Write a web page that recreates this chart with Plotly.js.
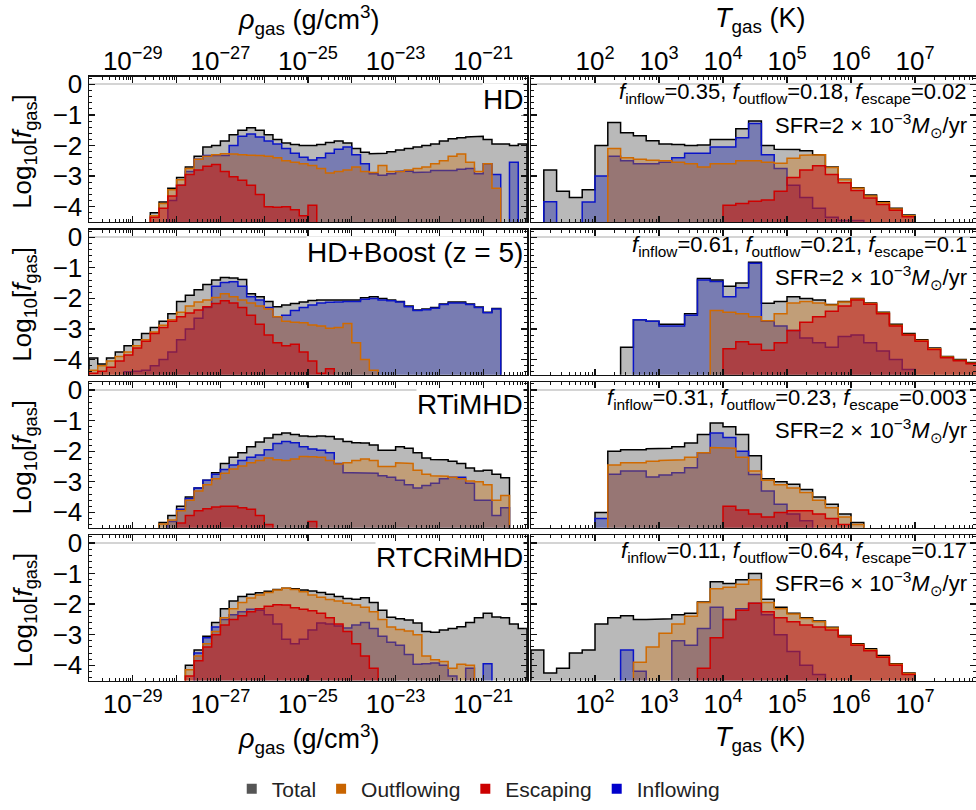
<!DOCTYPE html>
<html>
<head>
<meta charset="utf-8">
<script src="https://cdn.plot.ly/plotly-3.0.1.min.js"></script>
<style>html,body{margin:0;padding:0;background:#fff;}#chart{width:976px;height:810px;}</style>
</head>
<body>
<div id="chart"></div>
<script>
const _ = null;

// ---------- Density histograms: log10 f_gas per 0.2-dex bin of log10 rho, first bin edge -30 ----------
const rhoBinStart = -30, rhoBinWidth = 0.2;
const hdRhoTotal = [_,_,_,_,_,_,_,-4.2,-3.85,-3.4,-3.05,-2.7,-2.35,-2.05,-2.0,-1.85,-1.65,-1.5,-1.42,-1.5,-1.65,-1.8,-1.92,-1.97,-2.0,-2.0,-1.97,-1.9,-1.85,-1.92,-2.1,-2.22,-2.27,-2.25,-2.2,-2.15,-2.1,-2.05,-2.0,-1.95,-1.85,-1.78,-1.75,-1.72,-1.7,-1.8,-1.95,-1.95,-2.0,-1.95];
const hdRhoIn    = [_,_,_,_,_,_,_,_,_,-3.8,-3.3,-2.85,-2.45,-2.33,-2.33,-2.33,-2.0,-1.7,-1.62,-1.72,-1.85,-1.95,-2.1,-2.25,-2.38,-2.47,-2.4,-2.25,-2.12,-2.05,-2.3,-2.6,-2.92,-2.97,-2.92,-2.85,-2.83,-2.88,-2.87,-2.82,-2.8,-2.82,-2.78,-2.75,-2.92,-2.6,-2.95,_,-2.55];
const hdRhoOut   = [_,_,_,_,_,_,_,-4.3,-3.9,-3.45,-3.12,-2.75,-2.45,-2.35,-2.3,-2.27,-2.28,-2.3,-2.32,-2.33,-2.35,-2.4,-2.5,-2.55,-2.6,-2.65,-2.75,-2.9,-2.85,-2.8,-2.7,-2.85,-2.88,-2.65,-2.85,-2.85,-2.8,-2.75,-2.7,-2.6,-2.5,-2.35,-2.28,-2.55,-2.85,-2.6,-3.4];
const hdRhoEsc   = [_,_,_,_,_,_,_,-4.35,-4.05,-3.65,-3.3,-2.95,-2.8,-2.68,-2.62,-2.85,-3.02,-3.14,-3.3,-3.6,-4.0,-4.02,-4.0,-4.1,-4.3,-3.95];

const boostRhoTotal = [-3.95,-4.15,-3.95,-3.75,-3.55,-3.35,-3.15,-2.95,-2.75,-2.5,-2.1,-1.9,-1.72,-1.55,-1.4,-1.32,-1.33,-1.38,-1.85,-1.95,-2.1,-2.27,-2.22,-2.17,-2.12,-2.07,-2.05,-2.05,-2.03,-2.03,-2.05,-1.98,-1.95,-2.0,-2.05,-2.1,-2.25,-2.38,-2.35,-2.3,-2.18,-2.12,-2.12,-2.18,-2.28,-2.45,-2.33];
const boostRhoIn    = [_,_,_,_,-4.4,-4.38,-4.35,-4.2,-4.0,-3.75,-3.35,-3.0,-2.65,-2.3,-1.6,-1.48,-1.46,-1.6,-1.95,-2.05,-2.3,-2.6,-2.55,-2.4,-2.3,-2.22,-2.15,-2.13,-2.12,-2.1,-2.1,-2.03,-2.0,-2.05,-2.08,-2.12,-2.27,-2.4,-2.37,-2.32,-2.2,-2.15,-2.15,-2.2,-2.3,-2.47,-2.35];
const boostRhoOut   = [-4.35,-4.2,-4.05,-3.9,-3.75,-3.55,-3.35,-3.1,-2.88,-2.7,-2.45,-2.25,-2.12,-2.05,-1.97,-1.85,-1.95,-2.05,-2.15,-2.25,-2.35,-2.6,-2.75,-2.78,-2.8,-2.87,-2.9,-2.98,-2.95,-2.82,-3.45,-4.0,-4.35];
const boostRhoEsc   = [-4.45,-4.38,-4.25,-4.05,-3.85,-3.62,-3.4,-3.15,-2.95,-2.75,-2.6,-2.48,-2.38,-2.27,-2.17,-2.08,-2.15,-2.3,-2.55,-2.85,-3.2,-3.45,-3.55,-3.5,-3.75,-4.05,-4.45,-4.3];

const rtRhoTotal = [_,_,_,_,_,_,_,_,-4.33,-4.1,-3.8,-3.5,-3.2,-2.95,-2.7,-2.4,-2.2,-2.05,-1.85,-1.7,-1.57,-1.45,-1.4,-1.45,-1.5,-1.52,-1.5,-1.52,-1.6,-1.68,-1.72,-1.73,-1.8,-1.97,-1.97,-1.85,-1.9,-2.05,-2.22,-2.27,-2.28,-2.33,-2.4,-2.55,-2.65,-2.62,-2.75,-2.87];
const rtRhoIn    = [_,_,_,_,_,_,_,_,_,-4.3,-3.9,-3.55,-3.2,-2.95,-2.75,-2.6,-2.45,-2.3,-2.2,-2.12,-1.95,-1.75,-1.68,-1.72,-1.85,-1.93,-1.97,-2.05,-2.4,-2.7,-2.7,-2.7,-2.72,-2.8,-2.85,-2.95,-3.1,-3.2,-3.12,-3.05,-2.9,-2.85,-2.85,-3.05,-3.6,-3.6,-4.1,-3.85];
const rtRhoOut   = [_,_,_,_,_,_,_,_,-4.38,-4.25,-3.95,-3.6,-3.3,-3.1,-2.9,-2.72,-2.58,-2.48,-2.38,-2.3,-2.22,-2.28,-2.3,-2.25,-2.17,-2.18,-2.2,-2.3,-2.42,-2.38,-2.3,-2.25,-2.3,-2.5,-2.5,-2.38,-2.4,-2.62,-2.75,-2.8,-2.82,-2.85,-2.9,-2.97,-3.0,-3.1,-3.6,-3.45];
const rtRhoEsc   = [_,_,_,_,_,_,_,_,_,_,-4.35,-4.1,-3.95,-3.88,-3.82,-3.8,-3.8,-3.85,-3.9,-4.1,-4.4,_,_,_,_,-4.3];

const crRhoTotal = [_,_,_,_,_,_,_,_,_,_,_,-4.0,-3.5,-3.05,-2.6,-2.15,-1.9,-1.75,-1.68,-1.63,-1.58,-1.52,-1.48,-1.5,-1.54,-1.57,-1.62,-1.68,-1.75,-1.82,-1.84,-1.79,-1.95,-2.2,-2.43,-2.48,-2.52,-2.62,-2.9,-2.92,-2.85,-2.8,-2.74,-2.6,-2.45,-2.3,-2.42,-2.45,-2.65,-2.8];
const crRhoIn    = [_,_,_,_,_,_,_,_,_,_,_,_,-3.6,-3.1,-2.75,-2.5,-2.35,-2.25,-2.17,-2.2,-2.35,-2.65,-3.15,-3.3,-3.15,-2.85,-2.62,-2.65,-2.72,-2.78,-2.68,-2.6,-2.8,-3.05,-3.25,-3.35,-3.65,-3.97,-3.95,-3.93,-4.0,-4.35,_,-4.1,_,-3.95];
const crRhoOut   = [_,_,_,_,_,_,_,_,_,_,_,-4.15,-3.7,-3.3,-2.9,-2.45,-2.15,-1.95,-1.8,-1.7,-1.62,-1.54,-1.48,-1.52,-1.6,-1.7,-1.78,-1.85,-1.9,-1.97,-2.03,-2.1,-2.25,-2.5,-2.75,-2.83,-2.88,-3.0,-3.7,-3.82,-3.88,-4.1,-3.97,-4.0];
const crRhoEsc   = [_,_,_,_,_,_,_,_,_,_,_,-4.35,-3.85,-3.4,-3.0,-2.68,-2.5,-2.38,-2.25,-2.15,-2.07,-2.02,-2.03,-2.12,-2.17,-2.22,-2.3,-2.45,-2.65,-2.9,-3.3,-3.7,-4.1];

// ---------- Temperature histograms: log10 f_gas per 0.2-dex bin of log10 T, first bin edge 1 ----------
const tBinStart = 1, tBinWidth = 0.2;
const hdTTotal = [_,-2.8,-3.5,-3.7,-3.45,-2.0,-1.25,-1.58,-1.68,-1.84,-1.95,-1.97,-2.0,-1.98,-1.8,-1.8,-1.45,-1.2,-2.0,-2.12,-2.13,-2.17,-2.3,-2.7,-3.1,-3.38,-3.62,-3.84,-4.05,-4.27];
const hdTIn    = [_,-3.84,_,_,-3.85,-3.0,-2.35,-2.5,-2.6,-2.6,-2.55,-2.4,-2.25,-2.25,-2.05,-2.05,-1.75,-1.28,-2.3,-2.75,-3.3,-3.7,-4.05,-4.35,-4.45,-4.45];
const hdTOut   = [_,_,_,_,_,_,-2.1,-2.4,-2.45,-2.48,-2.5,-2.55,-2.6,-2.7,-2.6,-2.6,-2.5,-2.5,-2.55,-2.58,-2.42,-2.32,-2.3,-2.72,-3.12,-3.4,-3.65,-3.87,-4.08,-4.3];
const hdTEsc   = [_,_,_,_,_,_,_,_,_,_,_,_,_,_,_,-3.95,-3.9,-3.82,-3.78,-3.5,-3.05,-2.8,-2.66,-2.95,-3.22,-3.47,-3.72,-3.93,-4.12,-4.33];

const boostTTotal = [_,_,_,_,_,_,_,-3.6,-2.7,-2.75,-2.85,-2.85,-2.5,-1.35,-1.4,-1.6,-1.5,-0.82,-2.16,-2.1,-1.95,-2.0,-2.05,-2.2,-2.1,-2.0,-2.15,-2.45,-2.85,-3.15,-3.35,-3.62,-3.9,-4.0,-4.1];
const boostTIn    = [_,_,_,_,_,_,_,_,-2.7,-2.75,-2.9,-2.9,-2.55,-1.4,-1.45,-1.95,-1.65,-0.85,-2.75,-2.9,-3.05,-3.3,-3.45,-3.6,-3.25,-3.2,-3.45,-3.72,-4.0,-4.33];
const boostTOut   = [_,_,_,_,_,_,_,_,_,_,_,_,_,_,-2.4,-2.45,-2.5,-2.6,-2.73,-2.5,-2.15,-2.1,-2.15,-2.22,-2.12,-2.02,-2.17,-2.48,-2.88,-3.18,-3.38,-3.65,-3.92,-4.02,-4.12];
const boostTEsc   = [_,_,_,_,_,_,_,_,_,_,_,_,_,_,_,-3.65,-3.42,-3.5,-3.7,-3.45,-3.05,-2.78,-2.6,-2.42,-2.25,-2.05,-2.19,-2.5,-2.9,-3.2,-3.4,-3.67,-3.94,-4.04,-4.14];

const rtTTotal = [_,_,_,_,_,-4.0,-2.0,-1.95,-1.95,-1.92,-1.9,-1.85,-1.73,-1.45,-1.08,-1.2,-1.45,-2.15,-2.9,-3.0,-3.08,-3.25,-3.5,-3.73,-4.05,-4.33];
const rtTIn    = [_,_,_,_,_,-4.2,-2.75,-2.65,-2.65,-2.84,-2.78,-2.7,-2.54,-2.05,-1.4,-1.55,-2.0,-2.76,-3.3,-3.73,-4.05,-4.27];
const rtTOut   = [_,_,_,_,_,_,-2.45,-2.38,-2.38,-2.33,-2.3,-2.28,-2.2,-2.05,-1.88,-1.9,-2.2,-2.65,-2.95,-3.1,-3.2,-3.35,-3.6,-3.85,-4.15,-4.4];
const rtTEsc   = [_,_,_,_,_,_,_,_,_,_,_,_,_,_,_,-3.8,-3.92,-4.05,-4.15,-4.0,-3.95,-3.95,-4.05,-4.2,-4.4];

const crTTotal = [-3.5,-4.25,-4.1,-3.6,-3.5,-2.65,-2.45,-2.38,-2.5,-2.5,-2.48,-2.35,-2.3,-1.93,-1.27,-1.33,-1.2,-1.0,-1.84,-2.1,-2.3,-2.45,-2.55,-2.76,-3.03,-3.3,-3.46,-3.68,-3.95,-4.25];
const crTIn    = [_,_,_,_,_,_,_,-3.5,-4.2,_,_,-3.2,-3.35,-2.8,-2.1,-2.5,-2.15,-1.97,-2.35,-3.0,-3.55,-4.0,-4.3];
const crTOut   = [_,_,_,_,_,_,_,_,-3.9,-3.4,-2.95,-2.65,-2.4,-1.95,-1.5,-1.45,-1.35,-1.2,-1.95,-2.15,-2.32,-2.47,-2.58,-2.78,-3.05,-3.32,-3.5,-3.72,-3.97,-4.27];
const crTEsc   = [_,_,_,_,_,_,_,_,_,_,_,_,_,-4.1,-3.1,-2.5,-2.2,-1.97,-2.25,-2.45,-2.58,-2.68,-2.75,-2.85,-3.08,-3.35,-3.53,-3.74,-4.0,-4.3];

// ---------- Text ----------
const runNames = ['HD', 'HD+Boost (z = 5)', 'RTiMHD', 'RTCRiMHD'];
const fInflow  = ['0.35', '0.61', '0.31', '0.11'];
const fOutflow = ['0.18', '0.21', '0.23', '0.64'];
const fEscape  = ['0.02', '0.1', '0.003', '0.17'];
const sfrMantissa = ['2', '2', '2', '6'];
const sfrExponent = ['−3', '−3', '−3', '−3'];
const rhoTickExps = [-29, -27, -25, -23, -21];
const tTickExps = [2, 3, 4, 5, 6, 7];
const seriesNames = ['Total', 'Outflowing', 'Escaping', 'Inflowing'];

// ---------- Styles ----------
const FONT = 'Liberation Sans, Arial, Helvetica, sans-serif';
const W = 976, H = 810;
const styles = {
  total: {line: '#000000', fill: 'rgba(128,128,128,0.55)'},
  inf:   {line: '#0a14c8', fill: 'rgba(30,40,170,0.42)'},
  out:   {line: '#d06a00', fill: 'rgba(210,110,0,0.35)'},
  esc:   {line: '#d00000', fill: 'rgba(195,0,10,0.45)'}
};
const legendColors = ['#555555', '#c86400', '#cc0000', '#0000cc'];

const rows = [
  {rho: [hdRhoTotal, hdRhoIn, hdRhoOut, hdRhoEsc], T: [hdTTotal, hdTIn, hdTOut, hdTEsc]},
  {rho: [boostRhoTotal, boostRhoIn, boostRhoOut, boostRhoEsc], T: [boostTTotal, boostTIn, boostTOut, boostTEsc]},
  {rho: [rtRhoTotal, rtRhoIn, rtRhoOut, rtRhoEsc], T: [rtTTotal, rtTIn, rtTOut, rtTEsc]},
  {rho: [crRhoTotal, crRhoIn, crRhoOut, crRhoEsc], T: [crTTotal, crTIn, crTOut, crTEsc]}
];
const styleOrder = ['total', 'inf', 'out', 'esc'];

// step polygon (closed down below the axis) from histogram bins
function stepPolygon(vals, x0, w) {
  const xs = [], ys = [], base = -7;
  let i = 0;
  while (i < vals.length) {
    if (vals[i] === null || vals[i] === undefined) { i++; continue; }
    let j = i;
    while (j + 1 < vals.length && vals[j + 1] !== null && vals[j + 1] !== undefined) j++;
    if (xs.length) { xs.push(null); ys.push(null); }
    const e = k => +(x0 + k * w).toFixed(4);
    xs.push(e(i)); ys.push(base);
    for (let k = i; k <= j; k++) { xs.push(e(k)); ys.push(vals[k]); xs.push(e(k + 1)); ys.push(vals[k]); }
    xs.push(e(j + 1)); ys.push(base);
    i = j + 1;
  }
  return {xs, ys};
}

// ---------- Geometry (pixels) ----------
const zeroPx = [85, 239, 393, 547];
const pxPerUnit = 30.8;
const yMin = -4.5, yMax = 0.25;
const colPx = [[89, 527], [531, 976]];
const xRanges = [[-30, -20], [1, 1 + (976 - 531) / 64]];
const px2x = p => p / W, px2y = p => 1 - p / H;

const traces = [];
const layout = {
  width: W, height: H,
  margin: {l: 0, r: 0, t: 0, b: 0},
  paper_bgcolor: '#ffffff', plot_bgcolor: '#ffffff',
  font: {family: FONT, size: 26, color: '#000'},
  showlegend: true,
  legend: {orientation: 'h', x: 0.49, xanchor: 'center', y: px2y(795), yanchor: 'middle',
           font: {family: FONT, size: 21, color: '#222'}, itemwidth: 30, tracegroupgap: 0, bgcolor: 'rgba(0,0,0,0)'},
  annotations: []
};

function minorVals(lo, hi) {
  const v = [];
  for (let d = Math.floor(lo); d < hi; d++) for (let k = 2; k <= 9; k++) { const t = d + Math.log10(k); if (t > lo && t < hi) v.push(t); }
  return v;
}
function yMinor() { const v = []; for (let t = -4.4; t < 0.25; t += 0.2) { const r = +t.toFixed(2); if (Math.abs(r - Math.round(r)) > 0.01) v.push(r); } return v; }

for (let r = 0; r < 4; r++) {
  const topPx = zeroPx[r] - yMax * pxPerUnit;
  const botPx = zeroPx[r] - yMin * pxPerUnit;
  for (let c = 0; c < 2; c++) {
    const n = r * 2 + c + 1;
    const xa = n === 1 ? 'x' : 'x' + n, ya = n === 1 ? 'y' : 'y' + n;
    const xs = n === 1 ? 'xaxis' : 'xaxis' + n, ys = n === 1 ? 'yaxis' : 'yaxis' + n;
    const data = c === 0 ? rows[r].rho : rows[r].T;
    const x0 = c === 0 ? rhoBinStart : tBinStart;
    const w = c === 0 ? rhoBinWidth : tBinWidth;
    data.forEach((vals, si) => {
      const st = styles[styleOrder[si]];
      const p = stepPolygon(vals, x0, w);
      traces.push({x: p.xs, y: p.ys, xaxis: xa, yaxis: ya, type: 'scatter', mode: 'lines',
        fill: 'toself', fillcolor: st.fill, line: {color: st.line, width: 1.5, shape: 'linear'},
        showlegend: false, hoverinfo: 'skip'});
    });
    const rng = xRanges[c];
    let tickvals = [], ticktext = [];
    if (c === 0) {
      for (let d = -30; d <= -20; d++) { tickvals.push(d); ticktext.push(rhoTickExps.includes(d) ? '10<sup>−' + Math.abs(d) + '</sup>' : ''); }
    } else {
      for (let d = 1; d <= 7; d++) { tickvals.push(d); ticktext.push(tTickExps.includes(d) ? '10<sup>' + d + '</sup>' : ''); }
    }
    const showX = (r === 0 || r === 3);
    layout[xs] = {
      domain: [px2x(colPx[c][0]), px2x(colPx[c][1])], anchor: ya, range: rng, type: 'linear',
      side: r === 0 ? 'top' : 'bottom', showticklabels: showX,
      tickmode: 'array', tickvals, ticktext, ticks: 'inside', ticklen: 6, tickwidth: 1.2, tickcolor: '#111',
      minor: {tickmode: 'array', tickvals: minorVals(rng[0], rng[1]), ticks: 'inside', ticklen: 3, tickwidth: 1, tickcolor: '#111', showgrid: false},
      showline: true, linecolor: '#111', linewidth: 1.5, mirror: 'ticks', showgrid: false, zeroline: false,
      tickfont: {family: FONT, size: 26, color: '#000'}, fixedrange: true
    };
    if (r === 0) layout[xs].ticklabelstandoff = -5;
    layout[ys] = {
      domain: [px2y(botPx), px2y(topPx)], anchor: xa, range: [yMin, yMax],
      tickmode: 'array', tickvals: [0, -1, -2, -3, -4], ticktext: ['0', '−1', '−2', '−3', '−4'],
      showticklabels: c === 0, ticks: 'inside', ticklen: 6, tickwidth: 1.2, tickcolor: '#111',
      minor: {tickmode: 'array', tickvals: yMinor(), ticks: 'inside', ticklen: 3, tickwidth: 1, tickcolor: '#111', showgrid: false},
      showline: true, linecolor: '#111', linewidth: 1.5, mirror: 'ticks', showgrid: false,
      zeroline: true, zerolinecolor: '#d4d4d4', zerolinewidth: 2,
      tickfont: {family: FONT, size: 26, color: '#000'}, fixedrange: true
    };
  }
  // panel annotations
  layout.annotations.push({xref: 'paper', yref: 'paper', x: px2x(524), y: px2y(zeroPx[r] + 15), xanchor: 'right', yanchor: 'middle',
    text: runNames[r], showarrow: false, font: {family: FONT, size: 28, color: '#000'}, bgcolor: '#ffffff', borderpad: 0});
  layout.annotations.push({xref: 'paper', yref: 'paper', x: px2x(969), y: px2y(zeroPx[r] + 9), xanchor: 'right', yanchor: 'middle',
    text: '<i>f</i><sub>inflow</sub>=' + fInflow[r] + ', <i>f</i><sub>outflow</sub>=' + fOutflow[r] + ', <i>f</i><sub>escape</sub>=' + fEscape[r],
    showarrow: false, font: {family: FONT, size: 22, color: '#000'}});
  layout.annotations.push({xref: 'paper', yref: 'paper', x: px2x(969), y: px2y(zeroPx[r] + 41), xanchor: 'right', yanchor: 'middle',
    text: 'SFR=' + sfrMantissa[r] + ' × 10<sup>' + sfrExponent[r] + '</sup><i>M</i><sub>⊙</sub>/yr',
    showarrow: false, font: {family: FONT, size: 22, color: '#000'}});
  layout.annotations.push({xref: 'paper', yref: 'paper', x: px2x(24), y: px2y(zeroPx[r] + 68), xanchor: 'center', yanchor: 'middle',
    text: 'Log<sub>10</sub>[<i>f</i><sub>gas</sub>]', textangle: -90, showarrow: false, font: {family: FONT, size: 26, color: '#000'}});
}

// axis titles
const rhoTitle = '<i>ρ</i><sub>gas</sub> (g/cm<sup>3</sup>)';
const tTitle = '<i>T</i><sub>gas</sub> (K)';
[20, 745].forEach(yp => {
  layout.annotations.push({xref: 'paper', yref: 'paper', x: px2x(308), y: px2y(yp), xanchor: 'center', yanchor: 'middle', text: rhoTitle, showarrow: false, font: {family: FONT, size: 27, color: '#000'}});
  layout.annotations.push({xref: 'paper', yref: 'paper', x: px2x(760), y: px2y(yp), xanchor: 'center', yanchor: 'middle', text: tTitle, showarrow: false, font: {family: FONT, size: 27, color: '#000'}});
});

// legend entries
seriesNames.forEach((nm, i) => {
  traces.push({x: [null], y: [null], xaxis: 'x', yaxis: 'y', type: 'scatter', mode: 'markers', name: nm,
    marker: {symbol: 'square', size: 10, color: legendColors[i]}, showlegend: true, hoverinfo: 'skip'});
});

Plotly.newPlot('chart', traces, layout, {staticPlot: true, displayModeBar: false});
</script>
</body>
</html>
